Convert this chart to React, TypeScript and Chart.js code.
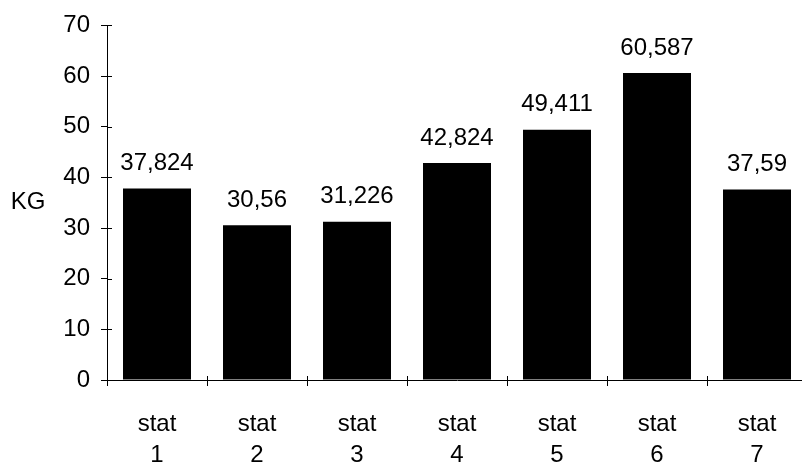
import React, { useEffect, useRef } from "react";
import { Chart, registerables } from "chart.js";

Chart.register(...registerables);

const categories: string[][] = [
  ["stat", "1"],
  ["stat", "2"],
  ["stat", "3"],
  ["stat", "4"],
  ["stat", "5"],
  ["stat", "6"],
  ["stat", "7"],
];
const weights: number[] = [37.824, 30.56, 31.226, 42.824, 49.411, 60.587, 37.59];
const yTicks: number[] = [0, 10, 20, 30, 40, 50, 60, 70];
const axisTitle = "KG";

const FONT = "'Liberation Sans', Arial, sans-serif";
const FONT_SIZE = 24;

const formatValue = (v: number) => String(v).replace(".", ",");

// Value labels above each bar, axis title, and ticks that cross the axis lines
const decorations = {
  id: "decorations",
  afterDatasetsDraw(chart: any) {
    const { ctx, chartArea } = chart;
    const meta = chart.getDatasetMeta(0);
    ctx.save();
    ctx.fillStyle = "#000";
    ctx.font = `${FONT_SIZE}px ${FONT}`;
    ctx.textAlign = "center";
    ctx.textBaseline = "middle";
    meta.data.forEach((bar: any, i: number) => {
      ctx.fillText(formatValue(weights[i]), bar.x, bar.y - 25);
    });

    // horizontal axis title
    ctx.fillText(axisTitle, 28, (chartArea.top + chartArea.bottom) / 2);

    // inner halves of the tick marks
    ctx.strokeStyle = "#000";
    ctx.lineWidth = 1;
    const ys = chart.scales.y;
    ys.ticks.forEach((t: any) => {
      const py = Math.round(ys.getPixelForValue(t.value)) + 0.5;
      ctx.beginPath();
      ctx.moveTo(chartArea.left, py);
      ctx.lineTo(chartArea.left + 5, py);
      ctx.stroke();
    });
    const xs = chart.scales.x;
    for (let i = 0; i <= categories.length; i++) {
      const px = Math.round(xs.getPixelForValue(i - 0.5)) + 0.5;
      ctx.beginPath();
      ctx.moveTo(px, chartArea.bottom - 4);
      ctx.lineTo(px, chartArea.bottom);
      ctx.stroke();
    }
    ctx.restore();
  },
};

export default function App() {
  const canvasRef = useRef<HTMLCanvasElement | null>(null);

  useEffect(() => {
    if (!canvasRef.current) return;
    const chart = new Chart(canvasRef.current, {
      type: "bar",
      data: {
        labels: categories,
        datasets: [
          {
            data: weights,
            backgroundColor: "#000",
            borderWidth: 0,
            barPercentage: 0.68,
            categoryPercentage: 1,
          },
        ],
      },
      options: {
        responsive: false,
        animation: false,
        devicePixelRatio: 1,
        layout: { padding: { top: 24, right: 5, left: 0, bottom: 0 } },
        plugins: {
          legend: { display: false },
          tooltip: { enabled: false },
          title: { display: false },
        },
        scales: {
          x: {
            grid: {
              display: true,
              drawOnChartArea: false,
              drawTicks: true,
              tickLength: 6,
              color: "#000",
              offset: true,
            },
            border: { display: true, color: "#000", width: 1 },
            ticks: {
              color: "#000",
              font: { family: FONT, size: FONT_SIZE, lineHeight: 1.3 },
              padding: 23,
              maxRotation: 0,
              autoSkip: false,
            },
            afterFit: (s: any) => {
              s.height = 88;
            },
          },
          y: {
            min: 0,
            max: 70,
            afterBuildTicks: (s: any) => {
              s.ticks = yTicks.map((v) => ({ value: v }));
            },
            grid: {
              display: true,
              drawOnChartArea: false,
              drawTicks: true,
              tickLength: 6,
              color: "#000",
            },
            border: { display: true, color: "#000", width: 1 },
            ticks: {
              color: "#000",
              font: { family: FONT, size: FONT_SIZE },
              padding: 11,
            },
            afterFit: (s: any) => {
              s.width = 107;
            },
          },
        },
      },
      plugins: [decorations],
    });
    return () => chart.destroy();
  }, []);

  return (
    <div
      style={{
        position: "absolute",
        left: 0,
        top: 0,
        width: 802,
        height: 468,
        overflow: "hidden",
        background: "#fff",
      }}
    >
      <canvas ref={canvasRef} width={812} height={468} style={{ display: "block" }} />
    </div>
  );
}
